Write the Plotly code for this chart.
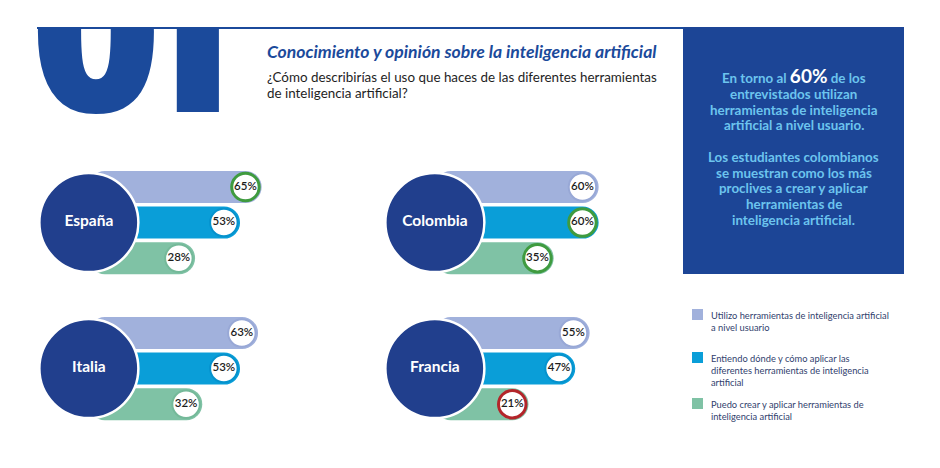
import plotly.graph_objects as go

W, H = 940, 468

# ---------------- data ----------------
paises = ["España", "Colombia", "Italia", "Francia"]
series = [
    "Utilizo herramientas de inteligencia artificial<br>a nivel usuario",
    "Entiendo dónde y cómo aplicar las<br>diferentes herramientas de inteligencia<br>artificial",
    "Puedo crear y aplicar herramientas de<br>inteligencia artificial",
]
usuario = [65, 60, 63, 55]
entiendo = [53, 60, 53, 47]
crear = [28, 35, 32, 21]
valores = [usuario, entiendo, crear]
# which series also mark their minimum in red
marca_minimo = [False, False, True]

seccion = ["0", "1"]
titulo = "Conocimiento y opinión sobre la inteligencia artificial"
subtitulo = ["¿Cómo describirías el uso que haces de las diferentes herramientas",
             "de inteligencia artificial?"]
destacado = [
    "En torno al <span style='font-size:19px;color:white'>60%</span> de los",
    "entrevistados utilizan",
    "herramientas de inteligencia",
    "artificial a nivel usuario.",
    "",
    "Los estudiantes colombianos",
    "se muestran como los más",
    "proclives a crear y aplicar",
    "herramientas de",
    "inteligencia artificial.",
]

# ---------------- style ----------------
bar_colors = ["#a1b1dc", "#0a9ed8", "#7fc2a5"]
ring_colors = ["#98a8d6", "#0592cd", "#74b999"]
GREEN = "#3f9b3f"
RED = "#b3252a"
NAVY = "#213f8d"
BLUE = "#1b4a9b"
BOX = "#1c4596"
LIGHT = "#6cc4ee"
FONT = "Lato"

def fx(p):
    return p / W

def fy(p):
    return 1 - p / H

group_x = [(30, 300), (376, 646), (30, 300), (376, 646)]
group_row0 = [187, 187, 333, 333]
PITCH = 35.6
X_RANGE = [-54.7, 95.3]
CIRCLE_X = -22
BAR_BASE = -22
CAP = 9

fig = go.Figure()
layout_axes = {}

for i, pais in enumerate(paises):
    n = i + 1
    xa = "x" if n == 1 else f"x{n}"
    ya = "y" if n == 1 else f"y{n}"
    xk = "xaxis" if n == 1 else f"xaxis{n}"
    yk = "yaxis" if n == 1 else f"yaxis{n}"
    x0, x1 = group_x[i]
    r0 = group_row0[i]
    top = r0 - PITCH / 2
    bot = r0 + 2.5 * PITCH
    layout_axes[xk] = dict(domain=[fx(x0), fx(x1)], range=X_RANGE, visible=False,
                           fixedrange=True, anchor=ya)
    layout_axes[yk] = dict(domain=[fy(bot), fy(top)], range=[2.5, -0.5], visible=False,
                           fixedrange=True, anchor=xa)

    for s in range(3):
        v = valores[s][i]
        fig.add_trace(go.Bar(
            x=[v + CAP - BAR_BASE], y=[s], base=[BAR_BASE], orientation="h", width=0.9,
            marker=dict(color=bar_colors[s], cornerradius="50%", line=dict(width=0)),
            xaxis=xa, yaxis=ya, showlegend=False, hoverinfo="skip",
            name=series[s].replace("<br>", " ")))

    # country circle
    fig.add_trace(go.Scatter(
        x=[CIRCLE_X], y=[1], mode="markers+text", cliponaxis=False,
        marker=dict(size=99, color=NAVY, line=dict(color="white", width=2.5)),
        text=[f"<b>{pais}</b>"], textposition="middle center",
        textfont=dict(family=FONT, size=15.5, color="white"),
        xaxis=xa, yaxis=ya, showlegend=False, hoverinfo="skip"))

    # value labels
    lx, ly, lt, lc, lw = [], [], [], [], []
    for s in range(3):
        v = valores[s][i]
        lx.append(v)
        ly.append(s)
        lt.append(f"{v}%")
        if v == max(valores[s]):
            lc.append(GREEN); lw.append(3)
        elif marca_minimo[s] and v == min(valores[s]):
            lc.append(RED); lw.append(3)
        else:
            lc.append(ring_colors[s]); lw.append(2)
    fig.add_trace(go.Scatter(
        x=lx, y=ly, mode="markers+text", cliponaxis=False,
        marker=dict(size=27.5, color="white", line=dict(color=lc, width=lw)),
        text=lt, textposition="middle center",
        textfont=dict(family=FONT, size=11.5, color="#1c1c1c", weight=600),
        xaxis=xa, yaxis=ya, showlegend=False, hoverinfo="skip"))

# big "01" clipped by the top rule (axis in pixel-like units)
layout_axes["xaxis5"] = dict(domain=[fx(37), fx(260)], range=[37, 260], visible=False,
                             fixedrange=True, anchor="y5")
layout_axes["yaxis5"] = dict(domain=[fy(130), fy(29)], range=[130, 29], visible=False,
                             fixedrange=True, anchor="x5")
fig.add_trace(go.Scatter(
    x=[96, 183], y=[55.5, 58], mode="text", text=seccion, textposition="middle center",
    textfont=dict(family="Open Sans", size=[225, 215], color=BLUE, weight=800),
    cliponaxis=True, xaxis="x5", yaxis="y5", showlegend=False, hoverinfo="skip"))

shapes = [
    dict(type="line", xref="paper", yref="paper", x0=fx(37), x1=fx(684), y0=fy(28), y1=fy(28),
         line=dict(color=BLUE, width=2)),
    dict(type="rect", xref="paper", yref="paper", x0=fx(683), x1=fx(904), y0=fy(274), y1=fy(27),
         fillcolor=BOX, line=dict(width=0), layer="below"),
]

annotations = [
    dict(xref="paper", yref="paper", x=fx(265), y=fy(51), xanchor="left", yanchor="middle",
         text=f"<i><b>{titulo}</b></i>",
         showarrow=False, font=dict(family=FONT, size=17.6, color=BLUE)),
]
for k, line in enumerate(subtitulo):
    annotations.append(dict(xref="paper", yref="paper", x=fx(265), y=fy(77 + 16.5 * k),
                            xanchor="left", yanchor="middle", text=line, showarrow=False,
                            font=dict(family=FONT, size=13.4, color="#1e1e1e")))
box_y = [75.5, 94, 109.7, 125.4, None, 156.8, 172.5, 188.2, 203.9, 219.6]
for k, line in enumerate(destacado):
    if not line:
        continue
    annotations.append(dict(xref="paper", yref="paper", x=fx(793.5), y=fy(box_y[k]),
                            xanchor="center", yanchor="middle", text=f"<b>{line}</b>",
                            showarrow=False, font=dict(family=FONT, size=13.4, color=LIGHT)))

# legend (swatches + labels)
leg_sq_top = [309, 352, 398]
for s in range(3):
    shapes.append(dict(type="rect", xref="paper", yref="paper",
                       x0=fx(692), x1=fx(703), y0=fy(leg_sq_top[s] + 11), y1=fy(leg_sq_top[s]),
                       fillcolor=bar_colors[s], line=dict(width=0)))
    annotations.append(dict(xref="paper", yref="paper", x=fx(709), y=fy(leg_sq_top[s] - 1.5),
                            xanchor="left", yanchor="top", align="left", showarrow=False,
                            text=series[s], font=dict(family=FONT, size=9.3, color="#31416d")))

fig.update_layout(
    width=W, height=H, margin=dict(l=0, r=0, t=0, b=0),
    paper_bgcolor="white", plot_bgcolor="rgba(0,0,0,0)",
    barmode="overlay", showlegend=False,
    shapes=shapes, annotations=annotations,
    **layout_axes,
)

fig.write_html("out.html")
